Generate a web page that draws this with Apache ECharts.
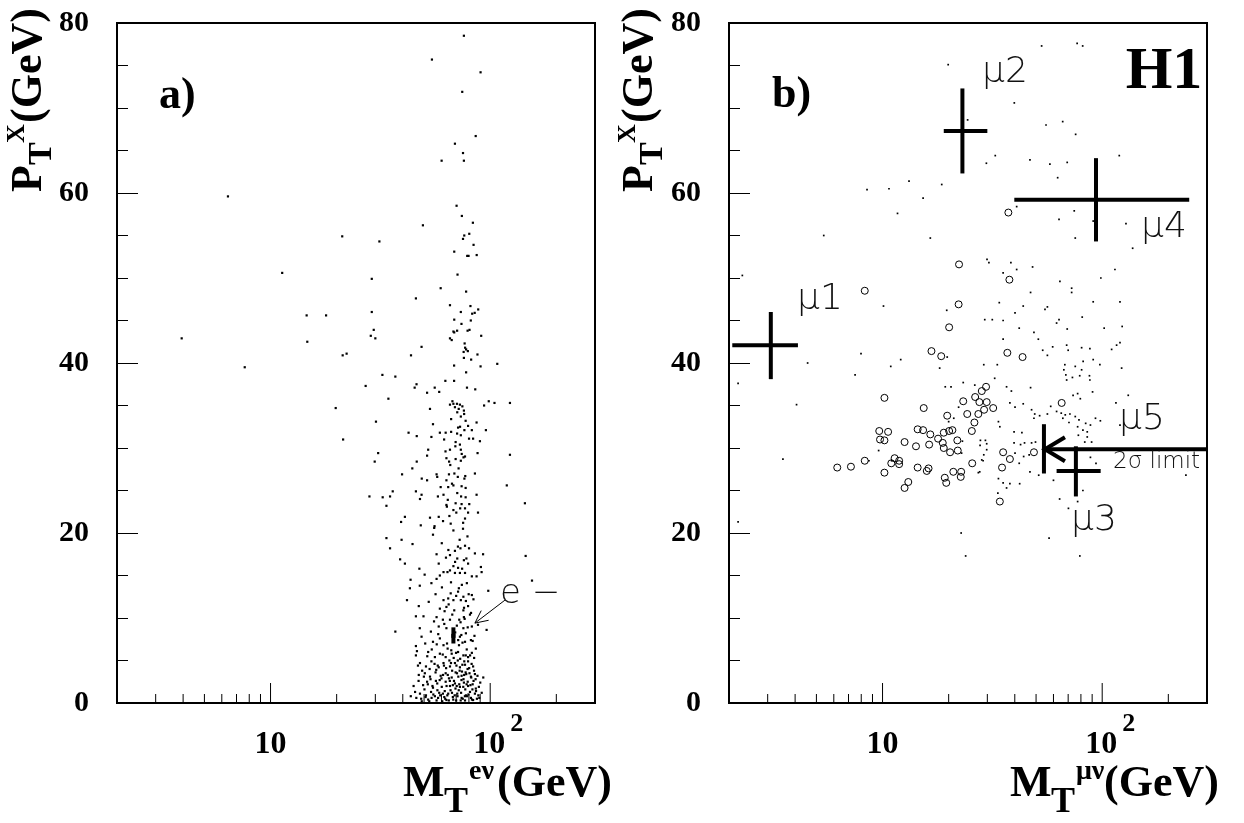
<!DOCTYPE html>
<html>
<head>
<meta charset="utf-8">
<script src="https://cdn.jsdelivr.net/npm/echarts@6/dist/echarts.min.js"></script>
<style>
  html, body { margin: 0; padding: 0; background: #fff; }
  #chart { width: 1244px; height: 823px; }
</style>
</head>
<body>
<div id="chart"></div>
<script>
// ---- axis ranges and ticks ----
const xMin = 2, xMax = 300;
const yMin = 0, yMax = 80;
const xTickValues = [2, 3, 4, 5, 6, 7, 8, 9, 10, 20, 30, 40, 50, 60, 70, 80, 90, 100, 200, 300];
const xMajorTicks = [10, 100];

// ---- a) e nu events : [M_T (GeV), P_T^X (GeV)] ----
const electronEvents = [
  [6.4,59.6],[21.2,54.9],[11.3,50.6],[14.6,45.6],[17.9,45.6],[3.94,42.9],[14.7,42.5],[21.3,40.9],[22.2,41.1],[7.63,39.5],[19.8,34.7],[21.4,31.0],
  [75.9,78.5],[54.3,75.7],[90.4,74.2],[74.6,71.9],[85.9,66.7],[69.1,65.8],[75.2,64.7],[60.1,63.8],[75.9,63.8],[70.3,58.5],[74.3,57.3],[83.4,56.5],
  [49.4,56.2],[31.3,54.3],[80.3,55.2],[76.2,55.0],[75.2,54.6],[84,53.9],[68.6,53.1],[78.6,52.6],[79.7,52.6],[86.8,52.7],[28.9,49.9],[71.0,50.4],
  [59.5,48.8],[77.7,48.4],[45.9,47.6],[65.6,46.8],[81.3,46.7],[88.2,46.3],[28.9,46.0],[73.5,46.0],[82.8,45.8],[85,45.9],[68.6,45.1],[81.6,45.0],
  [74,44.6],[29.5,43.9],[68,43.7],[68.6,43.6],[70.7,43.8],[78.9,43.8],[80.5,43.9],[91,43.2],[28.6,43.2],[30.0,42.9],[65.6,42.9],[66.8,42.7],
  [76.5,42.3],[76.9,41.8],[77.7,41.6],[79.1,41.4],[75.7,41.3],[87.5,41.0],[43.6,40.9],[48.7,41.9],[75.9,40.6],[81.9,40.4],[68.5,39.7],[90.4,39.6],
  [107.7,39.9],[77.7,38.9],[32.3,38.6],[37.0,38.4],[62.5,37.9],[68.5,37.9],[27.1,37.3],[46.2,37.5],[45.3,37.1],[55.9,37.1],[78.4,37.1],[85.5,36.9],
  [58.6,36.6],[51.6,36.5],[34.4,35.8],[65.6,35.1],[68,35.2],[70.6,35.2],[72.8,35.1],[74.7,34.9],[69.1,34.8],[71.9,34.6],[75.9,34.4],[70.8,34.2],
  [93.8,35.0],[98.5,35.5],[104.6,35.3],[123,35.3],[53.2,34.6],[30.2,33.1],[54.9,32.8],[73.5,33.7],[77.3,33.2],[79.3,32.6],[71.4,32.4],[86.7,33.0],
  [95.6,32.1],[82.5,32.1],[76.3,32.1],[42.5,31.8],[46.3,31.4],[54.0,31.3],[59.0,31.8],[62.7,31.8],[66.4,31.9],[73.5,31.5],[80.1,31.1],[83.6,31.1],
  [89.8,30.8],[69.6,30.7],[72.8,30.4],[65.6,29.8],[73.5,29.8],[52.2,29.8],[30.9,29.4],[29.8,28.4],[51.6,29.1],[87.6,29.4],[123,29.2],[63.2,28.8],
  [69.6,28.7],[76.8,29.0],[73.5,28.5],[65.8,28.0],[46.3,28.4],[44.2,27.6],[39.7,26.9],[48.8,26.4],[51.6,26.2],[57.4,26.6],[57.0,26.9],[64.9,26.9],
  [71.2,26.6],[85.2,27.0],[63.2,26.2],[76.3,26.4],[68,25.6],[59.5,25.4],[64.4,25.4],[74.1,25.5],[77.3,25.3],[70.8,24.7],[28.2,24.3],[32.4,24.2],
  [35.0,24.3],[36.0,24.9],[33.7,23.2],[45.9,24.9],[47.9,24.0],[48.7,24.5],[61.3,24.5],[64.1,23.9],[77.3,24.2],[86.7,24.5],[119,25.6],[63.2,23.3],
  [69.6,23.5],[74.1,23.4],[76.8,22.9],[68.0,22.7],[79.3,22.4],[88,22.4],[39.3,21.3],[40.9,21.9],[53.2,21.8],[58.3,21.9],[65.2,22.0],[76.8,21.7],
  [48.3,20.9],[55.8,20.8],[66.1,21.1],[75.2,20.5],[33.7,19.4],[35.0,18.2],[39.5,19.2],[44.3,18.7],[54.9,19.8],[60.2,18.8],[69.1,17.9],[73.2,18.2],
  [76.8,18.5],[80.1,18.2],[85.2,17.6],[92.8,17.5],[57.0,17.5],[65.6,17.4],[70.8,17.0],[75.9,16.8],[79.3,16.4],[38.9,16.9],[40.9,16.4],[47.6,15.8],
  [68,16.1],[71.4,15.9],[65.6,15.6],[61.3,15.4],[59.0,15.0],[63.9,15.4],[69.1,15.3],[72.8,15.3],[76.8,15.3],[82.5,14.9],[86.7,14.9],[91.4,15.4],
  [90.7,16.0],[54.0,14.1],[57.0,14.6],[43.4,14.5],[47.8,13.8],[43.1,13.5],[66.1,12.9],[71.4,13.1],[75.5,12.5],[82.5,12.7],[98.0,13.2],[41.8,12.1],
  [61.3,12.1],[64.4,12.3],[68,12.1],[73.5,12.1],[77.5,12.0],[47.3,11.4],[59.0,11.1],[63.2,11.3],[68.6,10.9],[75.5,10.9],[79.3,11.4],[45.9,10.2],
  [49.7,10.2],[57.0,10.1],[60.9,9.8],[65.6,9.8],[72.3,9.8],[75.9,10.1],[80.9,10.4],[37.0,8.4],[47.8,8.8],[58.3,9.0],[63.2,8.8],[75.5,8.8],
  [77.5,8.2],[82.5,9.0],[96.3,8.6],[45.9,6.7],[48.7,7.8],[54.9,7.2],[59.0,7.6],[61.3,6.8],[72.8,7.8],[76.8,7.2],[81.7,7.4],[45.9,5.6],
  [52.2,6.0],[56.0,5.4],[59.0,5.8],[62.7,5.4],[66.8,5.8],[71.4,6.0],[75.5,5.6],[79.3,5.4],[82.5,5.9],[47.9,4.7],[51.0,4.3],[54.0,4.9],
  [57.7,4.4],[61.3,4.7],[65.6,4.3],[69.1,4.7],[72.8,4.2],[76.8,4.5],[79.3,4.9],[83.6,4.3],[47.3,3.3],[50.4,3.5],[53.2,3.1],[56.4,3.6],
  [59.5,3.2],[62.7,3.5],[66.8,3.0],[70.6,3.5],[74.1,3.2],[77.3,3.6],[81.7,3.1],[85.2,3.4],[49.5,2.1],[51.6,2.5],[54.6,2.0],[57.4,2.3],
  [60.2,1.9],[62.7,2.5],[65.6,2.0],[69.1,2.3],[72.8,1.9],[75.9,2.4],[79.3,2.0],[83.2,2.2],[86.0,1.7],[47.9,1.1],[51.0,0.9],[53.8,1.3],
  [56.0,0.8],[58.6,1.2],[61.8,0.7],[64.4,1.1],[67.6,0.7],[70.8,1.1],[74.1,0.6],[77.5,0.9],[81.7,0.6],[85.2,1.1],[89.2,0.6],[46.1,0.6],
  [52.2,0.4],[57.0,0.3],[63.2,0.35],[70.0,0.3],[76.8,0.3],[83.6,0.35],[143.9,23.5],[145,17.3],[155,14.4],
  [48.5,0.5],[50.2,1.6],[52.8,0.2],[53.5,2.8],[55.1,1.0],[56.8,3.9],[57.9,0.6],[58.9,2.7],[60.5,0.2],[61.0,3.3],[62.1,1.4],[63.0,4.1],
  [63.8,0.9],[64.9,2.9],[65.2,5.0],[66.0,1.5],[67.1,3.8],[67.9,0.4],[68.4,2.6],[69.5,1.7],[70.2,4.4],[71.0,0.8],[71.6,3.1],[72.3,2.2],
  [73.0,5.2],[73.7,1.2],[74.4,3.7],[75.0,0.5],[75.6,2.8],[76.2,4.9],[77.0,1.6],[77.8,3.4],[78.5,0.8],[79.0,2.5],[80.2,4.1],[80.9,1.3],
  [82.0,3.0],[82.6,0.4],[84.0,2.6],[84.5,5.3],[86.2,1.4],[87.5,3.2],[88.3,0.9],[90.1,2.4],[44.8,2.0],[46.9,4.4],[49.0,3.8],[51.7,5.5],
  [54.2,6.3],[57.1,6.9],[60.8,5.7],[63.6,7.0],[66.5,6.2],[69.9,5.9],[72.1,6.8],[74.8,7.1],[78.2,6.3],[81.0,5.6],[83.2,7.3],[86.0,6.4],
  [70.5,9.1],[73.3,9.5],[67.2,10.4],[76.0,11.2],[62.0,10.8],[79.8,12.8],[72.0,13.5],[66.3,14.2],[74.5,15.8],[69.2,16.6],[77.9,17.0],[64.5,18.0],
  [72.6,19.2],[68.0,20.3],[75.3,21.2],[70.1,22.4],[63.5,23.1],[73.7,24.3],[67.0,25.8],[77.0,26.7],[71.8,27.6],[65.0,28.4],[74.2,29.3],[69.4,30.2],
  [61.7,31.0],[72.9,32.5],[66.4,33.4],[76.1,34.0],
  [45.5,1.3],[47.2,2.6],[48.8,0.2],[49.9,3.1],[50.8,0.7],[52.0,2.2],[53.0,4.0],[54.1,0.6],[54.9,1.8],[55.8,4.6],[56.6,2.6],[57.5,1.5],
  [58.3,4.2],[59.2,0.9],[60.0,2.9],[60.9,1.1],[61.6,4.4],[62.4,0.5],[63.3,2.0],[64.1,3.3],[64.8,0.3],[65.5,2.6],[66.3,4.7],[67.0,1.2],
  [67.6,2.1],[68.2,5.3],[68.9,0.9],[69.6,3.6],[70.4,2.0],[71.2,5.0],[71.9,1.5],[72.6,3.8],[73.4,0.3],[74.0,2.7],[74.7,4.5],[75.4,1.9],
  [76.1,3.3],[76.7,0.8],[77.4,5.6],[78.1,2.2],[78.9,4.0],[79.6,1.0],[80.5,3.5],[81.3,2.1],[82.3,4.6],[83.0,1.6],[84.4,3.8],[85.8,2.8],
  [87.0,0.5],[88.8,1.9],[91.5,1.2],[93.0,3.0],[43.5,0.8],[46.4,6.1],[50.6,7.0],[53.7,8.4],[55.5,9.6],[58.0,8.1],[61.8,9.3],[64.0,6.4],
  [67.8,7.2],[69.3,8.3],[71.5,7.4],[73.9,8.0],[76.5,9.9],[79.0,8.9],[81.8,10.6],[84.8,7.9],[88.0,9.2],[52.5,11.9],[56.4,12.8],[60.3,13.6],
  [64.7,11.6],[70.0,12.6],[74.3,13.9],[78.3,14.1],[83.9,12.2],[50.3,15.1],[58.3,16.4],[62.9,17.1],[71.3,18.4],[78.8,19.6],[55.6,20.6],[61.0,21.4],
  [73.0,22.9],[80.3,23.4],[57.8,24.3],[68.7,27.0],[75.6,28.9],[62.6,29.6],[70.7,31.7],[67.3,35.5]
];
// e- candidate: [x, xLow, xHigh, y, yLow, yHigh]
const electronCandidate = [68, 66.5, 69.5, 7.9, 7.0, 8.9];
// arrow pointing at it: [tailX, tailY, tipX, tipY]
const electronArrow = [116.7, 12.1, 85.2, 9.4];

// ---- b) mu nu : simulated events (dots) ----
const muonDots = [
  [19.9,75.1],[24.4,68.6],[29.7,63.5],[32.6,64.4],[8.5,60.4],[10.7,60.5],[13.2,61.4],[18.6,61.0],[15.3,59.4],[11.7,57.6],[5.4,55.0],[16.5,54.7],[29.9,52.2],
  [53.0,77.3],[76.9,77.6],[81.5,77.3],[39.8,70.6],[55.5,68.0],[66.1,68.4],[75.7,66.9],[46.9,63.9],[57.8,63.4],[69.3,63.6],[62.7,61.8],[119.6,64.4],[40.8,58.4],
  [63.6,56.9],[74.6,57.9],[91.0,56.7],[128.3,56.4],[75.4,54.7],[137.6,53.5],
  [2.3,50.3],[10.1,46.7],[19.6,46.2],[29.2,45.1],[30.5,51.8],[7.98,41.1],[4.56,40.0],[12.1,40.4],[10.9,39.6],[7.5,38.6],[18.2,39.4],[19.7,40.7],[28.9,39.8],
  [2.2,37.6],[19.3,37.2],[20.5,37.2],[23.3,37.7],[26.3,37.4],[4.06,35.1],[22.2,34.8],[21.1,33.5],[20.0,33.1],[9.6,29.7],[8.67,28.5],[11.0,28.5],[23.1,30.8],
  [22.9,29.4],[27.8,30.3],[29.8,29.8],[29.4,30.9],[28.7,28.5],[27.3,27.1],[3.52,28.7],[2.2,21.3],[22.8,20.0],[23.9,17.3],
  [38.4,51.8],[40.8,51.0],[48.2,51.3],[35.4,50.6],[64.2,49.6],[72.6,48.8],[72.6,48.3],[98.6,50.0],[114.3,51.0],[47.2,48.3],[34.0,47.1],[40.1,45.9],
  [43.7,46.7],[54.9,46.3],[56.3,46.6],[91.0,47.2],[120.5,47.2],[31.6,45.1],[35.4,45.0],[41.9,44.1],[48.9,43.6],[51.2,42.8],[62.0,44.7],[63.6,45.1],
  [69.3,44.0],[81.1,45.4],[102.1,44.1],[123.3,44.3],[35.4,42.8],[53.6,41.5],[56.3,40.9],[59.5,41.9],[68.9,42.1],[70.0,41.5],[80.6,41.8],[87.9,41.7],
  [110.4,41.6],[116.3,42.1],[120.5,42.4],[33.3,39.8],[67.6,39.8],[66.9,39.2],[68.3,38.6],[75.4,39.6],[80.6,39.2],[81.9,40.2],[91.0,40.4],[97.6,39.8],
  [122.6,39.4],[73.2,38.3],[79.0,38.5],[87.5,38.5],[87.9,38.0],[68.9,38.0],[32.4,38.2],[36.7,37.2],[38.6,36.7],[73.7,36.2],[77.3,36.4],[79.5,35.8],
  [90.4,36.6],[47.2,37.1],[131.4,36.2],[115.5,35.3],[38.0,35.3],[40.1,34.8],[43.7,35.2],[33.7,33.1],[34.2,32.5],[39.7,31.9],[43.1,31.8],[47.7,34.5],
  [49.3,34.0],[48.9,33.5],[51.9,33.8],[58.3,34.9],[56.3,34.0],[62.0,34.3],[65.1,34.1],[67.9,33.9],[71.3,34.0],[66.2,33.5],[70.6,33.0],[75.4,33.7],
  [77.3,32.5],[78.4,33.3],[81.7,32.1],[85.5,31.9],[88.4,32.7],[84.1,32.9],[93.2,33.5],[98.1,33.2],[77.9,31.5],[83.3,30.7],[89.5,30.7],[85.5,31.3],
  [120.5,32.7],[49.7,30.7],[47.7,30.6],[39.7,30.6],[42.5,30.4],[44.3,30.6],[43.9,29.0],[46.5,29.2],[40.1,29.4],[41.9,28.2],[27.9,30.9],[29.8,30.5],
  [28.9,29.2],[28.3,28.6],[27.7,27.2],[33.7,26.4],[35.4,25.9],[38.0,25.8],[42.1,25.8],[36.7,25.3],[46.9,27.2],[51.4,26.8],[60.0,26.2],[64.0,24.0],
  [70.2,22.9],[57.3,19.4],[79.1,17.3],[81.7,25.0],[88.4,28.9],[93.7,28.2],[240.5,26.8],[77.3,23.7],[33.5,24.7]
];
// ---- b) mu nu : second sample (open circles) ----
const muonCircles = [
  [22.3,51.6],[8.3,48.5],[22.2,46.9],[20.1,44.2],[16.7,41.4],[18.5,40.8],[10.2,35.9],[15.4,34.7],[23.3,35.5],[26.4,36.0],[27.6,35.4],[28.3,36.7],
  [29.6,37.2],[29.8,35.4],[19.7,33.8],[24.3,34.0],[27.3,34.0],[29.0,34.5],[26.2,33.0],[25.5,32.0],[9.66,32.0],[10.6,31.9],[9.74,31.0],[10.2,30.9],
  [14.45,32.2],[15.3,32.1],[16.5,31.6],[19.0,31.8],[20.1,32.0],[20.8,32.1],[17.9,31.1],[18.8,30.6],[21.9,30.9],[12.6,30.7],[14.2,30.2],[16.3,30.4],
  [19.0,30.0],[20.3,29.5],[22.0,29.7],[8.3,28.5],[6.22,27.7],[7.18,27.8],[11.35,28.8],[10.96,28.2],[11.9,28.5],[11.9,28.1],[10.2,27.1],[14.45,27.7],
  [15.9,27.3],[16.2,27.6],[19.2,26.5],[19.5,25.9],[21.0,27.2],[22.8,27.2],[22.7,26.6],[25.6,28.2],[13.1,26.0],[12.6,25.3],[37.8,49.8],[37.0,41.2],
  [43.4,40.7],[65.4,35.3],[31.9,34.7],[35.4,29.5],[38.0,28.7],[35.0,27.7],[48.9,29.5],[34.2,23.7],[37.4,57.7]
];
// ---- b) observed mu events: [x, xLow, xHigh, y, yLow, yHigh] ----
const muonNames = ['\u03bc1', '\u03bc2', '\u03bc3', '\u03bc4'];
const muonCandidates = [
  [3.1, 2.07, 4.12, 42.1, 38.1, 46.0],
  [23.1, 19.0, 30.0, 67.3, 62.3, 72.3],
  [75.9, 62.0, 98.4, 27.3, 24.3, 30.2],
  [93.7, 39.8, 249, 59.2, 54.3, 64.1]
];
// mu5: lower limit on M_T (2 sigma): [xLimit, y, yLow, yHigh]
const muon5Limit = [54.3, 29.85, 27.0, 32.8];

const serif = '"Liberation Serif", "Times New Roman", serif';
const thin = '"DejaVu Sans ExtraLight", "DejaVu Sans", sans-serif';

const chart = echarts.init(document.getElementById('chart'), null, { renderer: 'canvas' });

function txt(text, x, y, size, opts) {
  opts = opts || {};
  return {
    type: 'text', x: x, y: y, silent: true, z: 50,
    style: {
      text: text, fill: opts.fill || '#000',
      fontSize: size, fontFamily: opts.family || serif, fontWeight: opts.weight || 'bold',
      align: opts.align || 'left', textAlign: opts.align || 'left',
      verticalAlign: 'middle', textVerticalAlign: 'middle'
    }
  };
}
function thinTxt(text, x, y, size) {
  return txt(text, x, y, size, { family: thin, weight: 200, fill: '#111' });
}

function tickRender(params, api) {
  const v = api.value(0);
  const p = api.coord([v, yMin]);
  const major = xMajorTicks.indexOf(v) >= 0;
  const children = [{
    type: 'line',
    shape: { x1: p[0], y1: p[1], x2: p[0], y2: p[1] - (major ? 20 : 9) },
    style: { stroke: '#000', lineWidth: 1 }
  }];
  if (major) {
    const power = Math.round(Math.log10(v));
    if (power === 1) {
      children.push({ type: 'text', style: { text: '10', x: p[0], y: p[1] + 42, fill: '#000',
        fontSize: 32, fontFamily: serif, fontWeight: 'bold', align: 'center', verticalAlign: 'middle' } });
    } else {
      children.push({ type: 'text', style: { text: '10', x: p[0] - 1, y: p[1] + 42, fill: '#000',
        fontSize: 32, fontFamily: serif, fontWeight: 'bold', align: 'center', verticalAlign: 'middle' } });
      children.push({ type: 'text', style: { text: String(power), x: p[0] + 20, y: p[1] + 21, fill: '#000',
        fontSize: 26, fontFamily: serif, fontWeight: 'bold', align: 'left', verticalAlign: 'middle' } });
    }
  }
  return { type: 'group', children: children };
}

function crossRender(width) {
  return function (params, api) {
    const x = api.value(0), xl = api.value(1), xh = api.value(2);
    const y = api.value(3), yl = api.value(4), yh = api.value(5);
    const l = api.coord([xl, y]), r = api.coord([xh, y]);
    const b = api.coord([x, yl]), t = api.coord([x, yh]);
    return { type: 'group', children: [
      { type: 'line', shape: { x1: l[0], y1: l[1], x2: r[0], y2: r[1] }, style: { stroke: '#000', lineWidth: width } },
      { type: 'line', shape: { x1: b[0], y1: b[1], x2: t[0], y2: t[1] }, style: { stroke: '#000', lineWidth: width } }
    ] };
  };
}

function limitRender(params, api) {
  const x = api.value(0), y = api.value(1), yl = api.value(2), yh = api.value(3);
  const tip = api.coord([x, y]);
  const end = api.coord([xMax, y]);
  const b = api.coord([x, yl]), t = api.coord([x, yh]);
  const s = { stroke: '#000', lineWidth: 4 };
  return { type: 'group', children: [
    { type: 'line', shape: { x1: tip[0], y1: tip[1], x2: end[0], y2: end[1] }, style: s },
    { type: 'line', shape: { x1: b[0], y1: b[1], x2: t[0], y2: t[1] }, style: s },
    { type: 'polyline', shape: { points: [[tip[0] + 21, tip[1] - 12], [tip[0] + 1, tip[1]], [tip[0] + 21, tip[1] + 12]] },
      style: { stroke: '#000', lineWidth: 4, fill: null } }
  ] };
}

function arrowRender(params, api) {
  const a = api.coord([api.value(0), api.value(1)]);
  const b = api.coord([api.value(2), api.value(3)]);
  const ang = Math.atan2(b[1] - a[1], b[0] - a[0]);
  const len = 14, spread = 0.45;
  const p1 = [b[0] - len * Math.cos(ang - spread), b[1] - len * Math.sin(ang - spread)];
  const p2 = [b[0] - len * Math.cos(ang + spread), b[1] - len * Math.sin(ang + spread)];
  const s = { stroke: '#000', lineWidth: 1, fill: null };
  return { type: 'group', children: [
    { type: 'line', shape: { x1: a[0], y1: a[1], x2: b[0], y2: b[1] }, style: s },
    { type: 'polyline', shape: { points: [p1, b, p2] }, style: s }
  ] };
}

function panelAxes(i) {
  return {
    x: {
      gridIndex: i, type: 'log', logBase: 10, min: xMin, max: xMax,
      axisLine: { show: true, onZero: false, lineStyle: { color: '#000', width: 2 } },
      axisTick: { show: false }, axisLabel: { show: false }, splitLine: { show: false }
    },
    y: {
      gridIndex: i, type: 'value', min: yMin, max: yMax, interval: 20,
      axisLine: { show: true, onZero: false, lineStyle: { color: '#000', width: 2 } },
      axisTick: { show: true, inside: true, length: 21, lineStyle: { color: '#000', width: 1 } },
      minorTick: { show: true, splitNumber: 4, length: 11, lineStyle: { color: '#000', width: 1 } },
      axisLabel: { show: true, margin: 28, color: '#000', fontFamily: serif, fontWeight: 'bold', fontSize: 30 },
      splitLine: { show: false }, minorSplitLine: { show: false }
    }
  };
}
const ax0 = panelAxes(0), ax1 = panelAxes(1);

function xTitle(x0, sup) {
  return [
    txt('M', x0, 785, 44),
    txt('T', x0 + 41, 803, 36),
    txt(sup, x0 + 66, 772, 28),
    txt('(GeV)', x0 + 94, 785, 44)
  ];
}
function yTitle(cx) {
  return {
    type: 'group', x: cx, y: 192, rotation: Math.PI / 2, silent: true,
    children: [
      txt('P', 0, 0, 44),
      txt('T', 27, 12, 34),
      txt('X', 49, -13, 26),
      txt('(GeV)', 69, 0, 44)
    ]
  };
}

const option = {
  animation: false,
  backgroundColor: '#fff',
  grid: [
    { left: 117, top: 23, width: 478, height: 680, show: true, borderColor: '#000', borderWidth: 2,
      backgroundColor: 'transparent', containLabel: false, outerBoundsMode: 'none' },
    { left: 729, top: 23, width: 478, height: 680, show: true, borderColor: '#000', borderWidth: 2,
      backgroundColor: 'transparent', containLabel: false, outerBoundsMode: 'none' }
  ],
  xAxis: [ax0.x, ax1.x],
  yAxis: [ax0.y, ax1.y],
  series: [
    { type: 'scatter', xAxisIndex: 0, yAxisIndex: 0, data: electronEvents, symbol: 'rect', symbolSize: 2.2,
      itemStyle: { color: '#000', opacity: 1 }, silent: true },
    { type: 'custom', xAxisIndex: 0, yAxisIndex: 0, data: [electronCandidate], encode: { x: 0, y: 3 },
      renderItem: crossRender(4), silent: true, clip: false, z: 5 },
    { type: 'custom', xAxisIndex: 0, yAxisIndex: 0, data: [electronArrow], encode: { x: [0, 2], y: [1, 3] },
      renderItem: arrowRender, silent: true, clip: false, z: 5 },
    { type: 'custom', xAxisIndex: 0, yAxisIndex: 0, data: xTickValues.map(v => [v, yMin]), encode: { x: 0, y: 1 },
      renderItem: tickRender, silent: true, clip: false, z: 10 },

    { type: 'scatter', xAxisIndex: 1, yAxisIndex: 1, data: muonDots, symbol: 'rect', symbolSize: 1.7,
      itemStyle: { color: '#000', opacity: 1 }, silent: true },
    { type: 'scatter', xAxisIndex: 1, yAxisIndex: 1, data: muonCircles, symbol: 'circle', symbolSize: 7,
      itemStyle: { color: 'rgba(255,255,255,0)', borderColor: '#000', borderWidth: 1, opacity: 1 }, silent: true },
    { type: 'custom', xAxisIndex: 1, yAxisIndex: 1, data: muonCandidates, encode: { x: 0, y: 3 },
      renderItem: crossRender(4), silent: true, clip: false, z: 5 },
    { type: 'custom', xAxisIndex: 1, yAxisIndex: 1, data: [muon5Limit], encode: { x: 0, y: 1 },
      renderItem: limitRender, silent: true, clip: false, z: 5 },
    { type: 'custom', xAxisIndex: 1, yAxisIndex: 1, data: xTickValues.map(v => [v, yMin]), encode: { x: 0, y: 1 },
      renderItem: tickRender, silent: true, clip: false, z: 10 }
  ],
  graphic: { elements: [
    txt('a)', 159, 97, 44),
    txt('b)', 772, 96, 44),
    txt('H1', 1164, 72, 60, { align: 'center' }),
    thinTxt('e \u2212', 500, 594, 34),
    thinTxt(muonNames[0], 797, 300, 36),
    thinTxt(muonNames[1], 982, 73, 36),
    thinTxt(muonNames[3], 1141, 228, 36),
    thinTxt('\u03bc5', 1119, 420, 36),
    thinTxt(muonNames[2], 1071, 521, 36),
    thinTxt('2\u03c3 limit', 1113, 462, 23),
    yTitle(30),
    yTitle(641)
  ].concat(xTitle(403, 'e\u03bd')).concat(xTitle(1010, '\u03bc\u03bd')) }
};
chart.setOption(option);
</script>
</body>
</html>
